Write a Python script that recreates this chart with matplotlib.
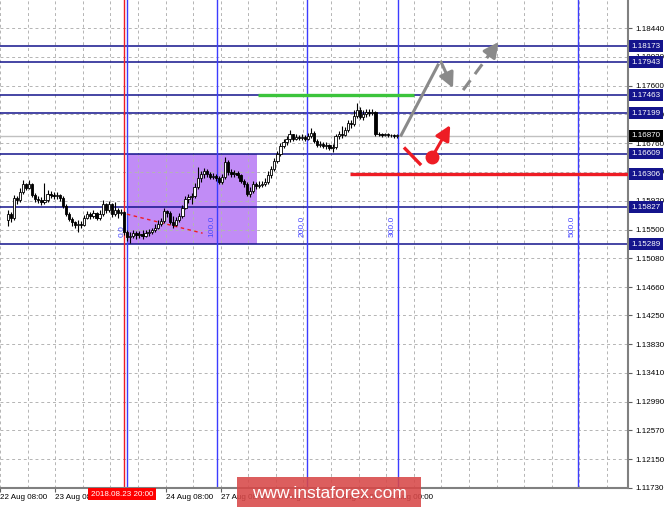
import numpy as np
import matplotlib.pyplot as plt
import matplotlib.transforms as mtransforms
from matplotlib.patches import Rectangle

plt.rcParams['font.family'] = ['Liberation Sans', 'DejaVu Sans']

# EURUSD candles (open of each bar = previous close)
first_open = 1.1564
closes = [1.1572, 1.1567, 1.1596, 1.1593, 1.1605, 1.1616, 1.1610, 1.1616, 1.1600, 1.1594,
          1.1593, 1.1590, 1.1593, 1.1602, 1.1600, 1.1599, 1.1600, 1.1596, 1.1584, 1.1572,
          1.1565, 1.1561, 1.1556, 1.1558, 1.1556, 1.1567, 1.1572, 1.1570, 1.1574, 1.1567,
          1.1572, 1.1587, 1.1578, 1.1587, 1.1572, 1.1578, 1.1574, 1.1575, 1.1546, 1.1539,
          1.1540, 1.1545, 1.1542, 1.1543, 1.1540, 1.1545, 1.1546, 1.1549, 1.1553, 1.1558,
          1.1562, 1.1577, 1.1574, 1.1561, 1.1556, 1.1564, 1.1570, 1.1581, 1.1594, 1.1597,
          1.1599, 1.1612, 1.1625, 1.1631, 1.1635, 1.1631, 1.1627, 1.1628, 1.1625, 1.1619,
          1.1627, 1.1648, 1.1634, 1.1631, 1.1632, 1.1629, 1.1621, 1.1616, 1.1602, 1.1606,
          1.1616, 1.1613, 1.1615, 1.1616, 1.1619, 1.1629, 1.1638, 1.1650, 1.1660, 1.1672,
          1.1678, 1.1682, 1.1689, 1.1682, 1.1685, 1.1683, 1.1685, 1.1682, 1.1686, 1.1691,
          1.1679, 1.1673, 1.1675, 1.1672, 1.1673, 1.1669, 1.1670, 1.1686, 1.1689, 1.1688,
          1.1695, 1.1705, 1.1704, 1.1716, 1.1724, 1.1714, 1.1718, 1.1721, 1.1720, 1.1721,
          1.1690, 1.1689, 1.1688, 1.1689, 1.1688, 1.1688, 1.1687, 1.1687]
highs = [1.1578, 1.1575, 1.1600, 1.1599, 1.1610, 1.1622, 1.1618, 1.1622, 1.1618, 1.1603,
         1.1599, 1.1597, 1.1618, 1.1608, 1.1606, 1.1605, 1.1605, 1.1602, 1.1599, 1.1587,
         1.1575, 1.1568, 1.1562, 1.1564, 1.1562, 1.1571, 1.1577, 1.1575, 1.1578, 1.1575,
         1.1578, 1.1593, 1.1589, 1.1591, 1.1589, 1.1590, 1.1581, 1.1580, 1.1577, 1.1549,
         1.1546, 1.1549, 1.1548, 1.1548, 1.1549, 1.1549, 1.1551, 1.1553, 1.1558, 1.1564,
         1.1567, 1.1581, 1.1578, 1.1577, 1.1570, 1.1568, 1.1574, 1.1586, 1.1599, 1.1602,
         1.1603, 1.1618, 1.1641, 1.1635, 1.1640, 1.1638, 1.1634, 1.1632, 1.1631, 1.1628,
         1.1631, 1.1656, 1.1651, 1.1638, 1.1637, 1.1635, 1.1631, 1.1624, 1.1619, 1.1612,
         1.1621, 1.1619, 1.1621, 1.1621, 1.1625, 1.1635, 1.1643, 1.1654, 1.1664, 1.1676,
         1.1682, 1.1686, 1.1695, 1.1689, 1.1689, 1.1688, 1.1689, 1.1688, 1.1691, 1.1698,
         1.1694, 1.1682, 1.1679, 1.1678, 1.1678, 1.1675, 1.1675, 1.1689, 1.1694, 1.1701,
         1.1700, 1.1710, 1.1710, 1.1724, 1.1735, 1.1729, 1.1724, 1.1726, 1.1726, 1.1726,
         1.1723, 1.1692, 1.1691, 1.1691, 1.1691, 1.1690, 1.1690, 1.1689]
lows = [1.1555, 1.1561, 1.1564, 1.1587, 1.1590, 1.1602, 1.1608, 1.1609, 1.1597, 1.1590,
        1.1589, 1.1586, 1.1587, 1.1590, 1.1596, 1.1594, 1.1594, 1.1591, 1.1581, 1.1570,
        1.1562, 1.1555, 1.1552, 1.1546, 1.1552, 1.1555, 1.1565, 1.1565, 1.1567, 1.1564,
        1.1564, 1.1570, 1.1574, 1.1575, 1.1568, 1.1570, 1.1567, 1.1571, 1.1542, 1.1533,
        1.1530, 1.1537, 1.1536, 1.1537, 1.1536, 1.1539, 1.1540, 1.1543, 1.1546, 1.1551,
        1.1555, 1.1559, 1.1568, 1.1558, 1.1553, 1.1555, 1.1561, 1.1567, 1.1580, 1.1589,
        1.1587, 1.1596, 1.1609, 1.1619, 1.1625, 1.1627, 1.1624, 1.1624, 1.1621, 1.1616,
        1.1616, 1.1624, 1.1629, 1.1627, 1.1627, 1.1625, 1.1618, 1.1612, 1.1599, 1.1597,
        1.1603, 1.1609, 1.1610, 1.1612, 1.1613, 1.1616, 1.1625, 1.1635, 1.1647, 1.1657,
        1.1669, 1.1673, 1.1678, 1.1679, 1.1681, 1.1681, 1.1681, 1.1679, 1.1681, 1.1683,
        1.1676, 1.1670, 1.1670, 1.1669, 1.1667, 1.1666, 1.1663, 1.1667, 1.1682, 1.1683,
        1.1686, 1.1692, 1.1698, 1.1701, 1.1713, 1.1711, 1.1710, 1.1714, 1.1716, 1.1717,
        1.1686, 1.1686, 1.1685, 1.1686, 1.1685, 1.1685, 1.1684, 1.1684]

levels = [1.18173, 1.17943, 1.17463, 1.17199, 1.16609, 1.15827, 1.15289]
red_level = 1.16306
green_level = 1.17463
last_price = 1.16870
yticks = [1.18440, 1.18020, 1.17600, 1.17180, 1.16760, 1.16340, 1.15920, 1.15500,
          1.15080, 1.14660, 1.14250, 1.13830, 1.13410, 1.12990, 1.12570, 1.12150, 1.11730]
# the label under the red date box is hidden in the terminal, so it stays blank
date_ticks = [-2.5, 15.5, 33.5, 51.5, 69.5, 87.5, 105.5, 123.5]
date_labels = ['22 Aug 08:00', '23 Aug 08:00', '', '24 Aug 08:00',
               '27 Aug 08:00', '27 Aug 20:00', '28 Aug 08:00', '29 Aug 00:00']
marked_bar = 38
marked_date = '2018.08.23 20:00'

# fibonacci time zones
fib_start = 39
fib_unit = 29.4
fib_levels = [0, 100, 200, 300, 500]

# rectangle (bars, prices) and the drawn tools
box_bars = [38.9, 81.4]
box_prices = [1.15289, 1.16609]
dash_red = ([38.9, 63.6], [1.15725, 1.15447])
green_span = [81.7, 132.7]
red_span = [111.6, 202.4]
grey_up = ([128.4, 140.4], [1.16878, 1.17900])
grey_down = ([141.4, 145.3], [1.17944, 1.17564])
grey_dash = ([148.6, 160.2], [1.17535, 1.18236])
red_stroke = ([129.3, 134.9], [1.16698, 1.16440])
red_dot = (138.4, 1.16552)
red_tip = (144.4, 1.17024)

navy = '#14148c'
red = '#ee1c24'
grey = '#8a8a8a'

fig = plt.figure(figsize=(6.65, 5.07), dpi=100)
ax = fig.add_axes([0, 19 / 507, 628 / 665, 488 / 507])
ax.set_xlim(-1.3, 202.4)
ax.set_ylim(1.11730, 1.18849)

# grid
for gx in np.arange(-2.5, 203, 9):
    ax.axvline(gx, color='#b4b4b4', lw=0.7, ls=(0, (3, 3)), zorder=1)
for gy in yticks:
    ax.axhline(gy, color='#b4b4b4', lw=0.7, ls=(0, (3, 3)), zorder=1)

ax.add_patch(Rectangle((box_bars[0], box_prices[0]), box_bars[1] - box_bars[0],
                       box_prices[1] - box_prices[0], fc='#c18cf6', ec='none', zorder=0.5))

for lv in levels:
    ax.axhline(lv, color=navy, lw=1.1, zorder=2)
ax.axhline(last_price, color='#c0c0c0', lw=1, zorder=2)

ax.axvline(marked_bar, color=red, lw=1, zorder=2)
for lv in fib_levels:
    fx = fib_start + lv / 100 * fib_unit
    ax.axvline(fx, color='#3c3cff', lw=1, zorder=2)
    ax.text(fx - 0.6, 1.1539, f'{lv:.1f}', rotation=90, ha='right', va='bottom',
            color='#4a4aff', fontsize=6, zorder=4)

ax.plot(dash_red[0], dash_red[1], color=red, lw=1, ls=(0, (2.5, 2.5)), zorder=2)

# candles
closes = np.array(closes)
opens = np.concatenate([[first_open], closes[:-1]])
x = np.arange(len(closes))
ax.vlines(x, lows, highs, color='black', lw=0.8, zorder=3)
bull = closes >= opens
bottoms = np.minimum(opens, closes)
heights = np.maximum(np.abs(closes - opens), 0.00004)
ax.bar(x[bull], heights[bull], bottom=bottoms[bull], width=0.75, color='white',
       edgecolor='black', linewidth=0.6, zorder=3.5)
ax.bar(x[~bull], heights[~bull], bottom=bottoms[~bull], width=0.75, color='black',
       edgecolor='black', linewidth=0.6, zorder=3.5)

# hand-drawn tools
ax.plot(green_span, [green_level] * 2, color='#3cc43c', lw=2.4, zorder=4, solid_capstyle='butt')
ax.plot(red_span, [red_level] * 2, color=red, lw=2.4, zorder=4, solid_capstyle='butt')
ax.plot(*grey_up, color=grey, lw=2.2, zorder=5)
ax.annotate('', xy=(grey_down[0][1], grey_down[1][1]), xytext=(grey_down[0][0], grey_down[1][0]),
            arrowprops=dict(arrowstyle='-|>,head_length=0.9,head_width=0.45', color=grey, lw=2.2,
                            shrinkA=0, shrinkB=0), zorder=5)
gx0, gx1 = grey_dash[0]
gy0, gy1 = grey_dash[1]
ax.plot([gx0, gx0 + (gx1 - gx0) * 0.75], [gy0, gy0 + (gy1 - gy0) * 0.75], color=grey, lw=2.2,
        ls=(0, (4, 2.5)), zorder=5)
ax.annotate('', xy=(gx1, gy1), xytext=(gx0 + (gx1 - gx0) * 0.7, gy0 + (gy1 - gy0) * 0.7),
            arrowprops=dict(arrowstyle='-|>,head_length=0.9,head_width=0.45', color=grey, lw=2.2,
                            shrinkA=0, shrinkB=0), zorder=5)
ax.plot(*red_stroke, color=red, lw=2.4, zorder=5, solid_capstyle='butt')
ax.plot(*red_dot, 'o', color=red, ms=9, zorder=5)
ax.annotate('', xy=red_tip, xytext=red_dot,
            arrowprops=dict(arrowstyle='-|>,head_length=0.9,head_width=0.45', color=red, lw=2.2,
                            shrinkA=0, shrinkB=0), zorder=5)

# axes look
for s in ['top', 'left']:
    ax.spines[s].set_visible(False)
for s in ['right', 'bottom']:
    ax.spines[s].set_color('#808080')
    ax.spines[s].set_linewidth(1.5)
ax.yaxis.tick_right()
ax.set_yticks(yticks)
ax.set_yticklabels([f'{v:.5f}' for v in yticks])
ax.tick_params(axis='y', length=3, pad=2, labelsize=5.8, colors='black', color='#606060')
ax.set_xticks(date_ticks)
ax.set_xticklabels(date_labels, ha='left')
ax.tick_params(axis='x', length=3, pad=1, labelsize=5.8, color='#606060')

trans_y = mtransforms.blended_transform_factory(ax.transAxes, ax.transData)
for lv in levels + [red_level]:
    ax.text(1.006, lv, f'{lv:.5f}', transform=trans_y, ha='left', va='center', color='white',
            fontsize=5.8, clip_on=False, zorder=10,
            bbox=dict(boxstyle='square,pad=0.3', fc=navy, ec='none'))
ax.text(1.006, last_price, f'{last_price:.5f}', transform=trans_y, ha='left', va='center',
        color='white', fontsize=5.8, clip_on=False, zorder=10,
        bbox=dict(boxstyle='square,pad=0.3', fc='black', ec='none'))

trans_x = mtransforms.blended_transform_factory(ax.transData, ax.transAxes)
ax.text(marked_bar - 0.7, -0.0125, marked_date, transform=trans_x, ha='center', va='center',
        color='white', fontsize=5.8, clip_on=False, zorder=10,
        bbox=dict(boxstyle='square,pad=0.3', fc='#ff0000', ec='none'))

# watermark
fig.add_artist(Rectangle((237 / 665, 0), 184 / 665, 30 / 507, transform=fig.transFigure,
                         fc='#d84848', ec='none', alpha=0.88, zorder=20))
fig.text(329 / 665, 13 / 507, 'www.instaforex.com', ha='center', va='center', color='white',
         fontsize=12.5, zorder=21)

fig.savefig('out.png', dpi=100, facecolor='white')
